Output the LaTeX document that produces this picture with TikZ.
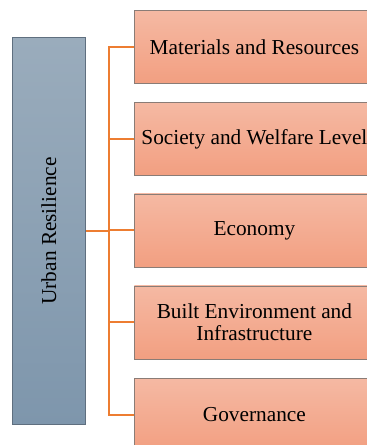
\documentclass[tikz,border=0pt]{standalone}
\usepackage{fontspec}
\setmainfont{Liberation Serif}
\definecolor{otop}{HTML}{F5B9A3}
\definecolor{obot}{HTML}{F29F81}
\definecolor{oedge}{HTML}{8A7C76}
\definecolor{btop}{HTML}{9AACBC}
\definecolor{bbot}{HTML}{7E96AC}
\definecolor{bedge}{HTML}{5F6F7F}
\definecolor{conn}{HTML}{ED7D31}
\begin{document}
\begin{tikzpicture}[x=1pt,y=-1pt,
  catbox/.style={draw=oedge, line width=0.8pt, top color=otop, bottom color=obot,
    minimum width=240pt, minimum height=73pt, inner sep=0pt, align=center,
    font=\fontsize{21.3}{22.5}\selectfont, anchor=north west},
  leftbox/.style={draw=bedge, line width=0.8pt, top color=btop, bottom color=bbot,
    minimum width=73pt, minimum height=387pt, inner sep=0pt, anchor=north west},
  connline/.style={draw=conn, line width=2pt}]
\useasboundingbox (0,0) rectangle (367,445);
\clip (0,0) rectangle (367,445);
\node[leftbox] (ur) at (12,37) {};
\node[rotate=90, font=\fontsize{21.3}{22.5}\selectfont] (urlabel) at (ur.center) {Urban Resilience};
\node[catbox] (c1) at (134,10) {Materials and Resources};
\node[catbox] (c2) at (134,102) {Society and Welfare Level};
\node[catbox] (c3) at (134,193.5) {Economy};
\node[catbox] (c4) at (134,285.5) {Built Environment and\\Infrastructure};
\node[catbox] (c5) at (134,378) {Governance};
\coordinate (trunk) at (109,230);
\draw[connline] (c1.west) -- (c1.west -| trunk) -- (c5.west -| trunk) -- (c5.west);
\draw[connline] (c2.west) -- (c2.west -| trunk);
\draw[connline] (c3.west) -- (c3.west -| trunk);
\draw[connline] (c4.west) -- (c4.west -| trunk);
\draw[connline] (ur.east) -- (ur.east -| trunk);
\end{tikzpicture}
\end{document}
